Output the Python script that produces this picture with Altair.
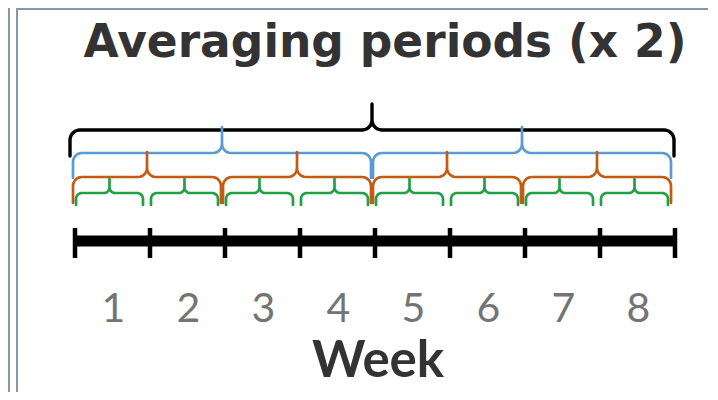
"""Diagram of nested averaging periods over an eight-week timeline."""

import altair as alt
import numpy as np
import pandas as pd

# chart content
title_text = "Averaging periods (x 2)"
axis_title = "Week"
weeks = [1, 2, 3, 4, 5, 6, 7, 8]
week_edges = [0, 1, 2, 3, 4, 5, 6, 7, 8]

# averaging periods: each level halves the period above it
period_names = ["8 weeks", "4 weeks", "2 weeks", "1 week"]
period_lengths = [8, 4, 2, 1]
period_colors = ["#000000", "#5b9bd5", "#c55a11", "#22a048"]

# layout (page pixels): bar = brace line, foot = end of the arms, tip = point of the brace
PX_PER_WEEK = 75
SHIFT = -3
brace_style = {
    "8 weeks": {"bar": 130, "foot": 156, "tip": 104, "inset": -2, "radius": 10, "width": 3.4},
    "4 weeks": {"bar": 153, "foot": 178, "tip": 127, "inset": 1, "radius": 9, "width": 2.7},
    "2 weeks": {"bar": 177, "foot": 203, "tip": 152, "inset": 1, "radius": 9, "width": 2.7},
    "1 week": {"bar": 193, "foot": 205, "tip": 179, "inset": 4, "radius": 6, "width": 2.7},
}

WIDTH, HEIGHT = 700, 384
x_scale = alt.Scale(domain=[-67 / PX_PER_WEEK, (WIDTH - 67) / PX_PER_WEEK], nice=False, zero=False)
y_scale = alt.Scale(domain=[8, 8 + HEIGHT], reverse=True, nice=False, zero=False)


def arc(cx, cy, r, a0, a1, n=8):
    """Points of a circular arc in screen coordinates (y down)."""
    angles = np.linspace(a0, a1, n)
    return [(cx + r * np.cos(a), cy + r * np.sin(a)) for a in angles]


def brace_path(x0, x1, style):
    """Outline of one curly brace between two pixel positions."""
    bar, foot, tip, r = style["bar"], style["foot"], style["tip"], style["radius"]
    r2 = min(r, (bar - tip) / 2.5)
    xc = (x0 + x1) / 2
    pts = [(x0, foot)]
    pts += arc(x0 + r, bar + r, r, np.pi, 1.5 * np.pi)
    pts += arc(xc - r2, bar - r2, r2, 0.5 * np.pi, 0)
    pts += [(xc, tip)]
    pts += arc(xc + r2, bar - r2, r2, np.pi, 0.5 * np.pi)
    pts += arc(x1 - r, bar + r, r, 1.5 * np.pi, 2 * np.pi)
    pts += [(x1, foot)]
    return pts


rows = []
for name, length in zip(period_names, period_lengths):
    style = brace_style[name]
    for k, start in enumerate(range(0, 8, length)):
        x0 = start * PX_PER_WEEK + SHIFT + style["inset"]
        x1 = (start + length) * PX_PER_WEEK + SHIFT - style["inset"]
        for seq, (px, py) in enumerate(brace_path(x0, x1, style)):
            rows.append(
                {
                    "period": name,
                    "brace": f"{name}-{k}",
                    "seq": seq,
                    "x": px / PX_PER_WEEK,
                    "y": py,
                    "width": style["width"],
                }
            )
braces_df = pd.DataFrame(rows)

braces = (
    alt.Chart(braces_df)
    .mark_line(strokeCap="round", strokeJoin="round")
    .encode(
        x=alt.X("x:Q", scale=x_scale, axis=None),
        y=alt.Y("y:Q", scale=y_scale, axis=None),
        detail="brace:N",
        order="seq:Q",
        color=alt.Color("period:N", scale=alt.Scale(domain=period_names, range=period_colors), legend=None),
        strokeWidth=alt.StrokeWidth("width:Q", scale=None),
    )
)

# timeline with week ticks
timeline = (
    alt.Chart(pd.DataFrame({"start": [week_edges[0]], "end": [week_edges[-1]]}))
    .mark_rule(strokeWidth=11, color="black")
    .encode(
        x=alt.X("start:Q", scale=x_scale, axis=None),
        x2="end:Q",
        y=alt.datum(241, scale=y_scale),
    )
)
ticks = (
    alt.Chart(pd.DataFrame({"edge": week_edges}))
    .mark_rule(strokeWidth=4.5, color="black")
    .encode(
        x=alt.X("edge:Q", scale=x_scale, axis=None),
        y=alt.datum(228, scale=y_scale),
        y2=alt.datum(258),
    )
)

labels = (
    alt.Chart(pd.DataFrame({"week": weeks, "pos": [w - 0.5 for w in weeks]}))
    .mark_text(font="Lato", fontSize=41, color="#747474", baseline="alphabetic", dx=1)
    .encode(
        x=alt.X("pos:Q", scale=x_scale, axis=None),
        y=alt.datum(322, scale=y_scale),
        text="week:N",
    )
)

title = (
    alt.Chart(pd.DataFrame({"text": [title_text]}))
    .mark_text(font="DejaVu Sans", fontSize=45.5, fontWeight="bold", color="#333333", baseline="alphabetic", dx=10)
    .encode(x=alt.datum(4, scale=x_scale), y=alt.datum(57, scale=y_scale), text="text:N")
)

week_title = (
    alt.Chart(pd.DataFrame({"text": [axis_title]}))
    .mark_text(font="Lato", fontSize=51, fontWeight="bold", color="#333333", baseline="alphabetic", dx=3)
    .encode(x=alt.datum(4, scale=x_scale), y=alt.datum(377, scale=y_scale), text="text:N")
)

# slide frame lines
frame_v = (
    alt.Chart(pd.DataFrame({"xpos": [1, 9]}))
    .mark_rule(strokeWidth=2, color="#8797ad")
    .encode(x=alt.X("xpos:Q", scale=None), y=alt.value(0), y2=alt.value(HEIGHT))
)
frame_h = (
    alt.Chart(pd.DataFrame({"ypos": [1]}))
    .mark_rule(strokeWidth=2, color="#8797ad")
    .encode(y=alt.Y("ypos:Q", scale=None), x=alt.value(9), x2=alt.value(WIDTH))
)

chart = (
    alt.layer(frame_v, frame_h, braces, timeline, ticks, labels, title, week_title)
    .properties(width=WIDTH, height=HEIGHT, padding=0, autosize=alt.AutoSizeParams(type="none"), background="white")
    .configure_view(strokeWidth=0)
)

chart.save("out.html", embed_options={"renderer": "svg", "actions": False})
